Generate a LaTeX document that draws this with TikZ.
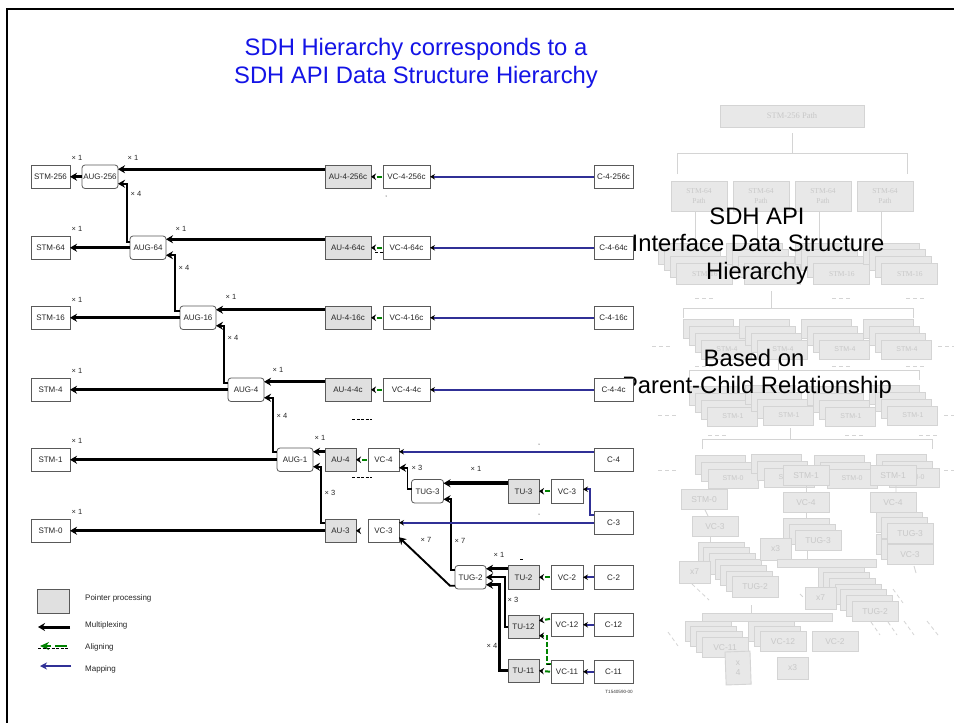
\documentclass[tikz,border=0pt]{standalone}
\usepackage{fontspec}
\setmainfont{Liberation Sans}
\newfontfamily\ghostserif{Liberation Serif}
\usepackage{xcolor}
\usepackage{tikz}
\usetikzlibrary{arrows.meta}

\definecolor{sdhblue}{RGB}{20,20,230}
\definecolor{sdhnavy}{RGB}{48,48,150}
\definecolor{sdhgreen}{RGB}{0,130,0}
\definecolor{ptrgray}{RGB}{224,224,224}
\definecolor{ghostfill}{RGB}{232,232,232}
\definecolor{ghostline}{RGB}{212,212,212}
\definecolor{ghosttext}{RGB}{200,200,200}

% name, style, x, y, count, step x, step y, label of the front box
\newcommand{\ghoststack}[8]{%
	\foreach \i in {1,...,#5}{%
		\ifnum\i=#5 \def\ghostlabel{#8}\else\def\ghostlabel{}\fi
		\node[#2] (#1\i) at ({#3+(\i-1)*#6},{#4+(\i-1)*#7}) {\ghostlabel};
	}%
}

\begin{document}
\begin{tikzpicture}[x=1pt,y=-1pt]
	\tikzset{
		elem/.style={
			draw=black!65, fill=white, line width=0.8pt, anchor=north west,
			minimum width=#1, minimum height=23.5pt, inner sep=0pt, outer sep=0pt,
			font=\fontsize{8}{9}\selectfont, text=black!85
		},
		ptr/.style={elem=#1, fill=ptrgray},
		aug/.style={elem=#1, rounded corners=3pt},
		times/.style={font=\fontsize{7.5}{8}\selectfont, text=black!85, inner sep=0pt},
		legend/.style={font=\fontsize{8}{9}\selectfont, text=black!85, inner sep=0pt, anchor=west},
		mux/.style={-{Stealth[length=7pt,width=8pt]}, draw=black, line width=3pt},
		muxthin/.style={mux, line width=1.9pt},
		muxthick/.style={mux, line width=4pt},
		mapped/.style={-{Stealth[length=5pt,width=5.5pt,color=black]}, draw=sdhnavy, line width=1.6pt},
		mapthick/.style={mapped, line width=2.2pt},
		aligned/.style={
			-{Stealth[length=5pt,width=6.5pt,color=black]}, draw=sdhgreen, line width=2pt,
			dash pattern=on 0pt off 1pt on 5pt off 8pt
		},
		alignlong/.style={aligned, dash pattern=on 5pt off 2pt},
		tiponly/.style={aligned, dash pattern=on 0pt off 30pt},
		speck/.style={draw=black, line width=0.6pt, dash pattern=on 3pt off 1.5pt},
		ghost/.style={
			draw=ghostline, fill=ghostfill, line width=0.9pt, anchor=north west,
			inner sep=0pt, outer sep=0pt, text=ghosttext,
			font=\fontsize{8.5}{10}\selectfont
		},
		gserif/.style={ghost, minimum width=56pt, minimum height=21pt, font=\ghostserif\fontsize{7.5}{10}\selectfont},
		gsmall/.style={ghost, minimum width=50pt, minimum height=19pt, font=\fontsize{7}{8}\selectfont},
		gbox/.style={ghost, minimum width=46pt, minimum height=20.5pt},
		gmult/.style={ghost, minimum width=31pt, minimum height=22pt},
		glink/.style={draw=ghostline, line width=0.9pt},
		gdash/.style={draw=ghostline, line width=0.8pt, dash pattern=on 4pt off 3pt},
		overtext/.style={font=\fontsize{23.8}{28}\selectfont, text=black, inner sep=0pt}
	}
	\useasboundingbox (0,0) rectangle (954,723);
	\fill[white] (0,0) rectangle (954,723);
	
	% ======= frame and title =======
	\draw[line width=2pt] (7,723) |- (954,9);
	\node[font=\fontsize{23.8}{28}\selectfont, text=sdhblue, align=center, inner sep=0pt] (title) at (416,63)
		{SDH Hierarchy corresponds to a\\SDH API Data Structure Hierarchy};
	
	% ======= faint tree: paths =======
	\node[ghost, minimum width=144pt, minimum height=22pt, font=\ghostserif\fontsize{8.5}{10}\selectfont] (root) at (720,105) {STM-256 Path};
	\draw[glink] ([yshift=-6pt]root.south) -- ++(0,20);
	\draw[glink] (677,174) |- (907,153) -- (907,174);
	\foreach \nm/\px/\ls in {pa/671/4, pb/733/3, pc/795/3, pd/857/3}{
		\draw[glink] (\px+24,211) -- ++(0,32);
		\node[ghost, minimum width=56pt, minimum height=30pt, align=center, font=\ghostserif\fontsize{7.5}{10}\selectfont] (\nm) at (\px,181) {STM-64\\Path};
	}
	
	% ======= faint tree: STM-16 =======
	\ghoststack{sxa}{gserif}{658}{243}{4}{6.3}{6.7}{STM-16}
	\ghoststack{sxb}{gserif}{726}{243}{4}{6.3}{6.7}{STM-16}
	\ghoststack{sxc}{gserif}{795}{243}{4}{6.3}{6.7}{STM-16}
	\ghoststack{sxd}{gserif}{863}{243}{4}{6.3}{6.7}{STM-16}
	\draw[gdash] (695,298) -- ++(18,0) (832,298) -- ++(18,0) (906,298) -- ++(18,0);
	\draw[glink] (771,291) -- (771,308);
	\draw[glink] (683,318) |- (913,308) -- (913,318);
	
	% ======= faint tree: STM-4 =======
	\ghoststack{sfa}{gsmall}{683}{319}{4}{6.3}{7}{STM-4}
	\ghoststack{sfb}{gsmall}{739}{319}{4}{6.3}{7}{STM-4}
	\ghoststack{sfc}{gsmall}{801}{319}{4}{6.3}{7}{STM-4}
	\ghoststack{sfd}{gsmall}{863}{319}{4}{6.3}{7}{STM-4}
	\draw[gdash] (652,346) -- ++(18,0) (938,346) -- ++(16,0);
	\draw[gdash] (695,366) -- ++(18,0) (832,366) -- ++(18,0) (906,366) -- ++(18,0);
	\draw[glink] (778,360) -- (778,370);
	\draw[glink] (689,380) |- (919,370) -- (919,380);
	
	% ======= faint tree: STM-1 =======
	\ghoststack{soa}{gsmall}{689}{386}{4}{6.3}{7}{STM-1}
	\ghoststack{sob}{gsmall}{745}{385}{4}{6.3}{7}{STM-1}
	\ghoststack{soc}{gsmall}{807}{386}{4}{6.3}{7}{STM-1}
	\ghoststack{sod}{gsmall}{869}{385}{4}{6.3}{7}{STM-1}
	\draw[gdash] (658,415) -- ++(18,0) (944,415) -- ++(10,0);
	\draw[gdash] (708,435) -- ++(18,0) (845,435) -- ++(18,0) (919,435) -- ++(18,0);
	\draw[glink] (790,428) -- (790,439);
	\draw[glink] (702,449) |- (932,439) -- (932,449);
	
	% ======= faint tree: STM-0 =======
	\ghoststack{sna}{gsmall}{695}{455}{3}{6.5}{7}{STM-0}
	\ghoststack{snb}{gsmall}{751}{454}{3}{6.5}{7}{STM-0}
	\ghoststack{snc}{gsmall}{814}{455}{3}{6.5}{7}{STM-0}
	\ghoststack{snd}{gsmall}{876}{454}{3}{6.5}{7}{STM-0}
	\draw[gdash] (658,470) -- ++(18,0) (944,470) -- ++(10,0);
	
	% ======= faint tree: left branch, VC-3 and TUG-2 =======
	\node[gbox] (gstm0) at (681,489) {STM-0};
	\node[gbox] (gvc3a) at (692,516) {VC-3};
	\draw[glink] (705,510) -- (708,516);
	\draw[glink] (710,537) -- (710,542);
	\ghoststack{gtga}{gbox}{698}{542}{7}{5.67}{5.8}{TUG-2}
	\node[gmult] (gxsa) at (679,561) {x7};
	
	% ======= faint tree: middle branch, VC-4 and TUG-3 =======
	\draw[glink] (806,485) -- (806,492) (806,512) -- (806,518) (807,551) -- (807,559);
	\node[gbox] (gstm1a) at (783,465) {STM-1};
	\node[gbox] (gvc4a) at (783,492) {VC-4};
	\ghoststack{gtha}{gbox}{783}{518}{3}{6}{6}{TUG-3}
	\node[gmult] (gxth) at (760,538) {x3};
	\node[ghost, minimum width=99pt, minimum height=8pt] (gbara) at (777,559) {};
	\ghoststack{gtgb}{gbox}{818}{567}{7}{5.67}{5.7}{TUG-2}
	\node[gmult] (gxsb) at (805,587) {x7};
	
	% ======= faint tree: right branch =======
	\draw[glink] (896,485) -- (896,492) (914,566) -- (916,573);
	\node[gbox] (gstm1b) at (870,465) {STM-1};
	\node[gbox] (gvc4b) at (870,492) {VC-4};
	\ghoststack{gvcc}{gbox}{876}{534}{3}{5.6}{5}{}
	\ghoststack{gthb}{gbox}{876}{512}{3}{5.6}{5.6}{TUG-3}
	\node[gbox] (gvc3b) at (887,544) {VC-3};
	
	% ======= faint tree: lowest level =======
	\draw[glink] (751,605) -- (751,613);
	\node[ghost, minimum width=130pt, minimum height=8pt] (gbarb) at (702,613) {};
	\ghoststack{gvea}{gbox}{685}{621}{4}{5.67}{5.4}{VC-11}
	\ghoststack{gveb}{gbox}{748}{621}{3}{6}{5.2}{VC-12}
	\node[gbox] (gvc2) at (812,631) {VC-2};
	\node[gmult] (gxtw) at (777,657) {x3};
	\node[ghost, minimum width=25pt, minimum height=33pt, rotate=2, align=center] (gxfo) at (725,652) {x\\4};
	\draw[gdash] (692,584) -- (709,600) (800,594) -- (803,597) (893,589) -- (903,603) (871,622) -- (880,635);
	\draw[gdash] (888,622) -- (897,635) (904,621) -- (914,635) (927,621) -- (938,635) (668,632) -- (678,646);
	
	% ======= text across the faint tree =======
	\node[overtext] (apia) at (757,216) {SDH API};
	\node[overtext] (apib) at (758,243) {Interface Data Structure};
	\node[overtext] (apic) at (757,273) {Hierarchy};
	\node[overtext] (apid) at (754,358) {Based on};
	\node[overtext] (apie) at (757,387.5) {Parent-Child Relationship};
	
	% ======= STM-256 row =======
	\node[elem=39pt] (stm256) at (31,165) {STM-256};
	\node[aug=36pt] (aug256) at (82,165) {AUG-256};
	\node[ptr=46pt] (au256) at (325,165) {AU-4-256c};
	\node[elem=47pt] (vc256) at (383,165) {VC-4-256c};
	\node[elem=39pt] (c256) at (594,165) {C-4-256c};
	
	% ======= STM-64 row =======
	\node[elem=39pt] (stm64) at (31,236) {STM-64};
	\node[aug=36pt] (aug64) at (130,236) {AUG-64};
	\node[ptr=46pt] (au64) at (325,236) {AU-4-64c};
	\node[elem=47pt] (vc64) at (383,236) {VC-4-64c};
	\node[elem=39pt] (c64) at (594,236) {C-4-64c};
	
	% ======= STM-16 row =======
	\node[elem=39pt] (stm16) at (31,306) {STM-16};
	\node[aug=36pt] (aug16) at (180,306) {AUG-16};
	\node[ptr=46pt] (au16) at (325,306) {AU-4-16c};
	\node[elem=47pt] (vc16) at (383,306) {VC-4-16c};
	\node[elem=39pt] (c16) at (594,306) {C-4-16c};
	
	% ======= STM-4 row =======
	\node[elem=39pt] (stm4) at (31,378) {STM-4};
	\node[aug=36pt] (aug4) at (228,378) {AUG-4};
	\node[ptr=46pt] (au4c) at (325,378) {AU-4-4c};
	\node[elem=47pt] (vc4c) at (383,378) {VC-4-4c};
	\node[elem=39pt] (c4c) at (594,378) {C-4-4c};
	
	% ======= STM-1, STM-0 and the lower part =======
	\node[elem=39pt] (stm1) at (31,448) {STM-1};
	\node[aug=36pt] (aug1) at (277,448) {AUG-1};
	\node[ptr=31pt] (au4) at (325,448) {AU-4};
	\node[elem=31pt] (vc4) at (368,448) {VC-4};
	\node[elem=39pt] (c4) at (594,448) {C-4};
	\node[aug=32pt] (tug3) at (411.5,479.5) {TUG-3};
	\node[ptr=31pt] (tu3) at (508,479.5) {TU-3};
	\node[elem=32pt] (vc3a) at (551,479.5) {VC-3};
	\node[elem=39pt] (c3) at (594,511) {C-3};
	\node[elem=39pt] (stm0) at (31,519) {STM-0};
	\node[ptr=31pt] (au3) at (325,519) {AU-3};
	\node[elem=31pt] (vc3b) at (368,519) {VC-3};
	\node[aug=31pt] (tug2) at (455,565.5) {TUG-2};
	\node[ptr=31pt] (tu2) at (508,565.5) {TU-2};
	\node[elem=32pt] (vc2) at (551,565.5) {VC-2};
	\node[elem=39pt] (c2) at (594,565.5) {C-2};
	\node[ptr=31pt] (tu12) at (508,615) {TU-12};
	\node[elem=32pt] (vc12) at (551,613) {VC-12};
	\node[elem=39pt] (c12) at (594,613) {C-12};
	\node[ptr=31pt] (tu11) at (508,659) {TU-11};
	\node[elem=32pt] (vc11) at (551,660) {VC-11};
	\node[elem=39pt] (c11) at (594,660) {C-11};
	
	% ======= multiplexing =======
	\draw[mux] (aug256) -- (stm256);
	\draw[mux] (aug64) -- (stm64);
	\draw[mux] (aug16) -- (stm16);
	\draw[mux] (aug4) -- (stm4);
	\draw[mux] (aug1) -- (stm1);
	\draw[mux] (au3) -- (stm0);
	\draw[mux] ([yshift=7.5pt]au256.west) -- ([yshift=7.5pt]aug256.east);
	\draw[mux] ([yshift=8.5pt]au64.west) -- ([yshift=8.5pt]aug64.east);
	\draw[mux] ([yshift=8pt]au16.west) -- ([yshift=8pt]aug16.east);
	\draw[mux] ([yshift=8pt]au4c.west) -- ([yshift=8pt]aug4.east);
	\draw[mux] ([yshift=8pt]au4.west) -- ([yshift=8pt]aug1.east);
	\draw[muxthin] ([yshift=6pt]aug64.west) -- ++(-3,0) |- ([yshift=-7pt]aug256.east);
	\draw[muxthin] ([yshift=7pt]aug16.west) -- ++(-5,0) |- ([yshift=-7.5pt]aug64.east);
	\draw[muxthin] ([yshift=7pt]aug4.west) -- ++(-4,0) |- ([yshift=-8pt]aug16.east);
	\draw[muxthin] ([yshift=8pt]aug1.west) -- ++(-4,0) |- ([yshift=-8pt]aug4.east);
	\draw[muxthin] ([yshift=7.5pt]au3.west) -- ++(-4,0) |- ([yshift=-7pt]aug1.east);
	\draw[muxthin] ([yshift=2pt]tug3.west) -- ++(-4,0) |- ([yshift=-8pt]vc4.east);
	\draw[muxthick] ([yshift=8pt]tu3.west) -- ([yshift=8pt]tug3.east);
	\draw[muxthin] ([yshift=7.5pt]tug2.west) -- ++(-4,0) |- ([yshift=-8pt]tug3.east);
	\draw[muxthin] ([yshift=-8.5pt]tug2.west) -- ++(-5,0) -- ([yshift=-6.5pt]vc3b.east);
	\draw[mux] ([yshift=8.5pt]tu2.west) -- ([yshift=8.5pt]tug2.east);
	\draw[muxthin] (tu12.west) -- ++(-3,0) |- (tug2.east);
	\draw[mux] (tu11.west) -- ++(-9,0) |- ([yshift=-7.5pt]tug2.east);
	
	% ======= aligning =======
	\draw[aligned] (vc256) -- (au256);
	\draw[aligned] (vc64) -- (au64);
	\draw[aligned] (vc16) -- (au16);
	\draw[aligned] (vc4c) -- (au4c);
	\draw[aligned] (vc4) -- (au4);
	\draw[aligned] (vc3a) -- (tu3);
	\draw[tiponly] (vc3b) -- (au3);
	\draw[aligned] (vc2) -- (tu2);
	\draw[aligned] ([yshift=6pt]vc12.west) -- ([yshift=6pt]tu12.east);
	\draw[aligned] (vc11.west) -- (tu11.east);
	\draw[alignlong] ([yshift=8pt]vc11.west) -- ++(-4,0) |- ([yshift=-9pt]tu12.east);
	
	% ======= mapping =======
	\draw[mapped] (c256) -- (vc256);
	\draw[mapped] (c64) -- (vc64);
	\draw[mapped] (c16) -- (vc16);
	\draw[mapped] (c4c) -- (vc4c);
	\draw[mapped] ([yshift=8pt]c4.west) -- ([yshift=8pt]vc4.east);
	\draw[mapped] (c3.west) -- (c3.west -| vc3b.east);
	\draw[mapped] ([yshift=8pt]c3.west) -- ++(-4,0) |- ([yshift=2pt]vc3a.east);
	\draw[mapthick] (c2) -- (vc2);
	\draw[mapthick] (c12) -- (vc12);
	\draw[mapthick] (c11) -- (vc11);
	
	% ======= multiplicities =======
	\foreach \nm/\mx/\my/\txt in {
		ta/77/158/1, tb/133/158/1, tc/136/194/4, td/77/229/1, te/181/229/1, tf/184/268/4,
		tg/77/300/1, th/231/297/1, ti/233/338/4, tj/77/371/1, tk/278/370/1, tl/282/416/4,
		tm/77/441/1, tn/320/438/1, to/330/493/3, tp/417/468/3, tq/476/469/1, tr/77/512/1,
		ts/426/540/7, tt/460/541/7, tu/499/555/1, tv/513/600/3, tw/492/646/4}{
		\node[times] (\nm) at (\mx,\my) {× \txt};
	}
	
	% ======= specks =======
	\draw[speck] (352,419) -- (372,419) (352,477) -- (372,477) (520,559) -- (524,559);
	\draw[speck] (375,252) -- (383,252) (547,664) -- (551,664);
	\fill (539,444) circle (0.5) (539,514) circle (0.5) (386,196) circle (0.5);
	
	\node[font=\fontsize{4.6}{5}\selectfont, text=black!80, inner sep=0pt, anchor=east] (tag) at (633,692) {T1540590-00};
	
	% ======= legend =======
	\node[ptr=32pt, minimum height=24pt] (lgbox) at (37,589) {};
	\node[legend] (lgptr) at (85,598) {Pointer processing};
	\node[legend] (lgmux) at (85,625) {Multiplexing};
	\node[legend] (lgali) at (85,647) {Aligning};
	\node[legend] (lgmap) at (85,669) {Mapping};
	\coordinate (lga) at (70,627);
	\coordinate (lgb) at (38,627);
	\coordinate (lgc) at (67,646);
	\coordinate (lgd) at (40,646);
	\coordinate (lge) at (71,666);
	\coordinate (lgf) at (40,666);
	\draw[mux] (lga) -- (lgb);
	\draw[-{Stealth[length=9pt,width=8pt]}, draw=sdhgreen, line width=2.4pt, dash pattern=on 12pt off 4pt] (lgc) -- (lgd);
	\draw[speck] (38,648) -- (68,648);
	\draw[-{Stealth[length=7pt,width=7pt]}, draw=sdhnavy, line width=2.2pt] (lge) -- (lgf);
\end{tikzpicture}
\end{document}
